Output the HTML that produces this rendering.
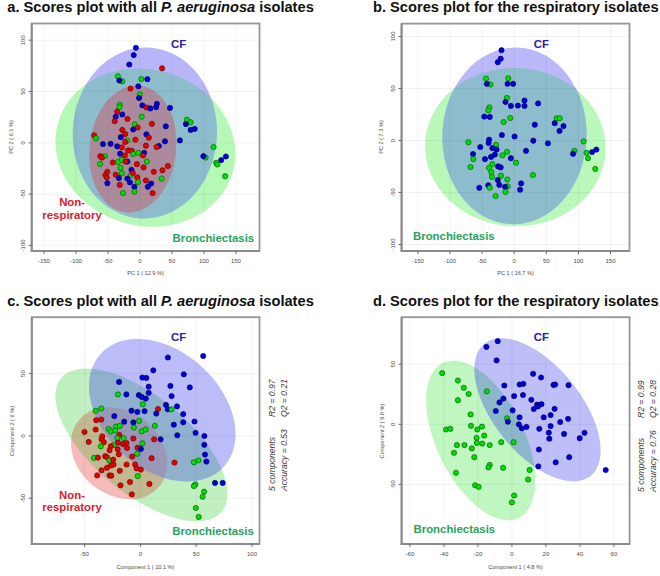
<!DOCTYPE html>
<html><head><meta charset="utf-8"><style>
html,body{margin:0;padding:0;background:#fff;width:660px;height:576px;overflow:hidden}
svg{position:absolute;left:0;top:0;font-family:'Liberation Sans', sans-serif}
</style></head><body>
<svg width="660" height="576" viewBox="0 0 660 576">
<defs><clipPath id="ag"><ellipse cx="145.37" cy="147.63" rx="78.23" ry="90.80" transform="rotate(105.48 145.37 147.63)"/></clipPath>
<clipPath id="ab"><ellipse cx="144.82" cy="132.97" rx="72.05" ry="85.53" transform="rotate(-177.76 144.82 132.97)"/></clipPath>
<clipPath id="ar"><ellipse cx="132.81" cy="149.00" rx="43.20" ry="63.60" transform="rotate(-173.53 132.81 149.00)"/></clipPath>
<clipPath id="bg"><ellipse cx="515.30" cy="147.13" rx="79.18" ry="90.31" transform="rotate(92.67 515.30 147.13)"/></clipPath>
<clipPath id="bb"><ellipse cx="514.47" cy="135.81" rx="72.08" ry="88.35" transform="rotate(-177.75 514.47 135.81)"/></clipPath>
<clipPath id="cg"><ellipse cx="141.43" cy="444.88" rx="104.47" ry="48.47" transform="rotate(-140.27 141.43 444.88)"/></clipPath>
<clipPath id="cb"><ellipse cx="162.27" cy="410.22" rx="58.83" ry="83.57" transform="rotate(132.62 162.27 410.22)"/></clipPath>
<clipPath id="cr"><ellipse cx="119.17" cy="453.25" rx="41.52" ry="52.08" transform="rotate(129.11 119.17 453.25)"/></clipPath>
<clipPath id="dg"><ellipse cx="480.78" cy="440.43" rx="86.26" ry="43.72" transform="rotate(-116.12 480.78 440.43)"/></clipPath>
<clipPath id="db"><ellipse cx="537.50" cy="409.85" rx="84.81" ry="43.85" transform="rotate(-128.74 537.50 409.85)"/></clipPath></defs>
<rect x="31.7" y="23.5" width="227.8" height="227.5" fill="#fff"/>
<ellipse cx="145.37" cy="147.63" rx="78.23" ry="90.80" transform="rotate(105.48 145.37 147.63)" fill="rgb(182,248,182)"/>
<ellipse cx="144.82" cy="132.97" rx="72.05" ry="85.53" transform="rotate(-177.76 144.82 132.97)" fill="rgb(184,182,248)"/>
<ellipse cx="132.81" cy="149.00" rx="43.20" ry="63.60" transform="rotate(-173.53 132.81 149.00)" fill="rgb(240,180,180)"/>
<g clip-path="url(#ag)"><ellipse cx="144.82" cy="132.97" rx="72.05" ry="85.53" transform="rotate(-177.76 144.82 132.97)" fill="rgb(141,188,204)"/></g>
<g clip-path="url(#ag)"><ellipse cx="132.81" cy="149.00" rx="43.20" ry="63.60" transform="rotate(-173.53 132.81 149.00)" fill="rgb(190,180,140)"/></g>
<g clip-path="url(#ab)"><ellipse cx="132.81" cy="149.00" rx="43.20" ry="63.60" transform="rotate(-173.53 132.81 149.00)" fill="rgb(170,140,180)"/></g>
<g clip-path="url(#ab)"><g clip-path="url(#ag)"><ellipse cx="132.81" cy="149.00" rx="43.20" ry="63.60" transform="rotate(-173.53 132.81 149.00)" fill="rgb(171,139,155)"/></g></g>
<line x1="43.900000000000006" y1="23.5" x2="43.900000000000006" y2="251" stroke="#000" stroke-opacity="0.05" stroke-width="1"/>
<line x1="75.9" y1="23.5" x2="75.9" y2="251" stroke="#000" stroke-opacity="0.05" stroke-width="1"/>
<line x1="107.9" y1="23.5" x2="107.9" y2="251" stroke="#000" stroke-opacity="0.05" stroke-width="1"/>
<line x1="139.9" y1="23.5" x2="139.9" y2="251" stroke="#000" stroke-opacity="0.05" stroke-width="1"/>
<line x1="171.9" y1="23.5" x2="171.9" y2="251" stroke="#000" stroke-opacity="0.05" stroke-width="1"/>
<line x1="203.9" y1="23.5" x2="203.9" y2="251" stroke="#000" stroke-opacity="0.05" stroke-width="1"/>
<line x1="235.9" y1="23.5" x2="235.9" y2="251" stroke="#000" stroke-opacity="0.05" stroke-width="1"/>
<line x1="31.7" y1="245.4" x2="259.5" y2="245.4" stroke="#000" stroke-opacity="0.05" stroke-width="1"/>
<line x1="31.7" y1="194.10000000000002" x2="259.5" y2="194.10000000000002" stroke="#000" stroke-opacity="0.05" stroke-width="1"/>
<line x1="31.7" y1="142.8" x2="259.5" y2="142.8" stroke="#000" stroke-opacity="0.05" stroke-width="1"/>
<line x1="31.7" y1="91.50000000000001" x2="259.5" y2="91.50000000000001" stroke="#000" stroke-opacity="0.05" stroke-width="1"/>
<line x1="31.7" y1="40.20000000000002" x2="259.5" y2="40.20000000000002" stroke="#000" stroke-opacity="0.05" stroke-width="1"/>
<circle cx="135.9" cy="47.8" r="2.6" fill="#0000d8" stroke="#000070" stroke-width="0.7"/>
<circle cx="133.7" cy="55.1" r="2.6" fill="#0000d8" stroke="#000070" stroke-width="0.7"/>
<circle cx="129.3" cy="64.5" r="2.6" fill="#0000d8" stroke="#000070" stroke-width="0.7"/>
<circle cx="162.1" cy="68.3" r="2.6" fill="#e80000" stroke="#700000" stroke-width="0.7"/>
<circle cx="117.9" cy="76.3" r="2.6" fill="#00e000" stroke="#006000" stroke-width="0.7"/>
<circle cx="122.3" cy="81.4" r="2.6" fill="#00e000" stroke="#006000" stroke-width="0.7"/>
<circle cx="119.4" cy="80.5" r="2.6" fill="#0000d8" stroke="#000070" stroke-width="0.7"/>
<circle cx="141.3" cy="79.0" r="2.6" fill="#00e000" stroke="#006000" stroke-width="0.7"/>
<circle cx="147.4" cy="79.2" r="2.6" fill="#0000d8" stroke="#000070" stroke-width="0.7"/>
<circle cx="138.3" cy="86.3" r="2.6" fill="#0000d8" stroke="#000070" stroke-width="0.7"/>
<circle cx="130.5" cy="88.5" r="2.6" fill="#e80000" stroke="#700000" stroke-width="0.7"/>
<circle cx="139.8" cy="94.4" r="2.6" fill="#00e000" stroke="#006000" stroke-width="0.7"/>
<circle cx="139.1" cy="98.0" r="2.6" fill="#0000d8" stroke="#000070" stroke-width="0.7"/>
<circle cx="119.8" cy="104.7" r="2.6" fill="#00e000" stroke="#006000" stroke-width="0.7"/>
<circle cx="119.4" cy="107.2" r="2.6" fill="#00e000" stroke="#006000" stroke-width="0.7"/>
<circle cx="117.2" cy="111.6" r="2.6" fill="#e80000" stroke="#700000" stroke-width="0.7"/>
<circle cx="115.7" cy="116.7" r="2.6" fill="#0000d8" stroke="#000070" stroke-width="0.7"/>
<circle cx="122.3" cy="114.5" r="2.6" fill="#0000d8" stroke="#000070" stroke-width="0.7"/>
<circle cx="127.5" cy="119.0" r="2.6" fill="#e80000" stroke="#700000" stroke-width="0.7"/>
<circle cx="141.7" cy="116.7" r="2.6" fill="#00e000" stroke="#006000" stroke-width="0.7"/>
<circle cx="142.4" cy="105.4" r="2.6" fill="#0000d8" stroke="#000070" stroke-width="0.7"/>
<circle cx="146.5" cy="107.5" r="2.6" fill="#e80000" stroke="#700000" stroke-width="0.7"/>
<circle cx="150.3" cy="108.4" r="2.6" fill="#0000d8" stroke="#000070" stroke-width="0.7"/>
<circle cx="156.9" cy="103.8" r="2.6" fill="#0000d8" stroke="#000070" stroke-width="0.7"/>
<circle cx="156.1" cy="107.2" r="2.6" fill="#0000d8" stroke="#000070" stroke-width="0.7"/>
<circle cx="170.0" cy="107.9" r="2.6" fill="#0000d8" stroke="#000070" stroke-width="0.7"/>
<circle cx="186.9" cy="119.7" r="2.6" fill="#00e000" stroke="#006000" stroke-width="0.7"/>
<circle cx="190.6" cy="122.2" r="2.6" fill="#00e000" stroke="#006000" stroke-width="0.7"/>
<circle cx="185.9" cy="124.1" r="2.6" fill="#0000d8" stroke="#000070" stroke-width="0.7"/>
<circle cx="190.6" cy="129.9" r="2.6" fill="#0000d8" stroke="#000070" stroke-width="0.7"/>
<circle cx="194.7" cy="128.9" r="2.6" fill="#0000d8" stroke="#000070" stroke-width="0.7"/>
<circle cx="179.9" cy="140.4" r="2.6" fill="#0000d8" stroke="#000070" stroke-width="0.7"/>
<circle cx="213.6" cy="147.0" r="2.6" fill="#00e000" stroke="#006000" stroke-width="0.7"/>
<circle cx="205.6" cy="157.6" r="2.6" fill="#00e000" stroke="#006000" stroke-width="0.7"/>
<circle cx="203.4" cy="156.2" r="2.6" fill="#0000d8" stroke="#000070" stroke-width="0.7"/>
<circle cx="221.2" cy="160.1" r="2.6" fill="#0000d8" stroke="#000070" stroke-width="0.7"/>
<circle cx="225.9" cy="156.5" r="2.6" fill="#0000d8" stroke="#000070" stroke-width="0.7"/>
<circle cx="216.1" cy="162.8" r="2.6" fill="#00e000" stroke="#006000" stroke-width="0.7"/>
<circle cx="217.3" cy="164.5" r="2.6" fill="#00e000" stroke="#006000" stroke-width="0.7"/>
<circle cx="225.1" cy="176.2" r="2.6" fill="#00e000" stroke="#006000" stroke-width="0.7"/>
<circle cx="114.7" cy="121.2" r="2.6" fill="#e80000" stroke="#700000" stroke-width="0.7"/>
<circle cx="151.9" cy="123.8" r="2.6" fill="#e80000" stroke="#700000" stroke-width="0.7"/>
<circle cx="165.8" cy="126.3" r="2.6" fill="#0000d8" stroke="#000070" stroke-width="0.7"/>
<circle cx="134.7" cy="124.4" r="2.6" fill="#00e000" stroke="#006000" stroke-width="0.7"/>
<circle cx="137.6" cy="127.5" r="2.6" fill="#e80000" stroke="#700000" stroke-width="0.7"/>
<circle cx="133.2" cy="129.5" r="2.6" fill="#0000d8" stroke="#000070" stroke-width="0.7"/>
<circle cx="122.3" cy="129.9" r="2.6" fill="#e80000" stroke="#700000" stroke-width="0.7"/>
<circle cx="125.2" cy="134.0" r="2.6" fill="#e80000" stroke="#700000" stroke-width="0.7"/>
<circle cx="120.8" cy="137.2" r="2.6" fill="#0000d8" stroke="#000070" stroke-width="0.7"/>
<circle cx="94.1" cy="135.3" r="2.6" fill="#e80000" stroke="#700000" stroke-width="0.7"/>
<circle cx="96.0" cy="138.3" r="2.6" fill="#00e000" stroke="#006000" stroke-width="0.7"/>
<circle cx="146.4" cy="134.3" r="2.6" fill="#0000d8" stroke="#000070" stroke-width="0.7"/>
<circle cx="148.8" cy="137.7" r="2.6" fill="#e80000" stroke="#700000" stroke-width="0.7"/>
<circle cx="135.4" cy="139.7" r="2.6" fill="#e80000" stroke="#700000" stroke-width="0.7"/>
<circle cx="165.0" cy="141.3" r="2.6" fill="#0000d8" stroke="#000070" stroke-width="0.7"/>
<circle cx="103.0" cy="144.1" r="2.6" fill="#0000d8" stroke="#000070" stroke-width="0.7"/>
<circle cx="110.6" cy="143.8" r="2.6" fill="#0000d8" stroke="#000070" stroke-width="0.7"/>
<circle cx="117.2" cy="146.3" r="2.6" fill="#0000d8" stroke="#000070" stroke-width="0.7"/>
<circle cx="121.9" cy="147.4" r="2.6" fill="#e80000" stroke="#700000" stroke-width="0.7"/>
<circle cx="127.2" cy="140.6" r="2.6" fill="#00e000" stroke="#006000" stroke-width="0.7"/>
<circle cx="125.2" cy="142.0" r="2.6" fill="#e80000" stroke="#700000" stroke-width="0.7"/>
<circle cx="145.9" cy="145.7" r="2.6" fill="#e80000" stroke="#700000" stroke-width="0.7"/>
<circle cx="158.8" cy="146.0" r="2.6" fill="#0000d8" stroke="#000070" stroke-width="0.7"/>
<circle cx="156.6" cy="147.0" r="2.6" fill="#e80000" stroke="#700000" stroke-width="0.7"/>
<circle cx="128.1" cy="150.4" r="2.6" fill="#e80000" stroke="#700000" stroke-width="0.7"/>
<circle cx="131.8" cy="150.8" r="2.6" fill="#e80000" stroke="#700000" stroke-width="0.7"/>
<circle cx="133.2" cy="154.0" r="2.6" fill="#00e000" stroke="#006000" stroke-width="0.7"/>
<circle cx="138.3" cy="152.8" r="2.6" fill="#00e000" stroke="#006000" stroke-width="0.7"/>
<circle cx="144.2" cy="152.8" r="2.6" fill="#0000d8" stroke="#000070" stroke-width="0.7"/>
<circle cx="143.0" cy="155.5" r="2.6" fill="#e80000" stroke="#700000" stroke-width="0.7"/>
<circle cx="120.1" cy="153.7" r="2.6" fill="#0000d8" stroke="#000070" stroke-width="0.7"/>
<circle cx="124.9" cy="155.5" r="2.6" fill="#e80000" stroke="#700000" stroke-width="0.7"/>
<circle cx="104.8" cy="156.2" r="2.6" fill="#00e000" stroke="#006000" stroke-width="0.7"/>
<circle cx="100.4" cy="156.2" r="2.6" fill="#e80000" stroke="#700000" stroke-width="0.7"/>
<circle cx="101.9" cy="157.6" r="2.6" fill="#e80000" stroke="#700000" stroke-width="0.7"/>
<circle cx="100.1" cy="163.9" r="2.6" fill="#00e000" stroke="#006000" stroke-width="0.7"/>
<circle cx="112.8" cy="162.5" r="2.6" fill="#e80000" stroke="#700000" stroke-width="0.7"/>
<circle cx="117.9" cy="162.0" r="2.6" fill="#00e000" stroke="#006000" stroke-width="0.7"/>
<circle cx="121.6" cy="159.8" r="2.6" fill="#00e000" stroke="#006000" stroke-width="0.7"/>
<circle cx="127.4" cy="161.6" r="2.6" fill="#0000d8" stroke="#000070" stroke-width="0.7"/>
<circle cx="125.5" cy="161.6" r="2.6" fill="#e80000" stroke="#700000" stroke-width="0.7"/>
<circle cx="146.8" cy="161.6" r="2.6" fill="#00e000" stroke="#006000" stroke-width="0.7"/>
<circle cx="136.9" cy="164.2" r="2.6" fill="#e80000" stroke="#700000" stroke-width="0.7"/>
<circle cx="143.6" cy="167.4" r="2.6" fill="#e80000" stroke="#700000" stroke-width="0.7"/>
<circle cx="167.9" cy="166.0" r="2.6" fill="#e80000" stroke="#700000" stroke-width="0.7"/>
<circle cx="120.5" cy="167.9" r="2.6" fill="#00e000" stroke="#006000" stroke-width="0.7"/>
<circle cx="107.3" cy="171.8" r="2.6" fill="#e80000" stroke="#700000" stroke-width="0.7"/>
<circle cx="105.5" cy="175.1" r="2.6" fill="#e80000" stroke="#700000" stroke-width="0.7"/>
<circle cx="106.7" cy="177.3" r="2.6" fill="#e80000" stroke="#700000" stroke-width="0.7"/>
<circle cx="107.4" cy="183.2" r="2.6" fill="#0000d8" stroke="#000070" stroke-width="0.7"/>
<circle cx="115.7" cy="174.7" r="2.6" fill="#e80000" stroke="#700000" stroke-width="0.7"/>
<circle cx="121.9" cy="173.3" r="2.6" fill="#00e000" stroke="#006000" stroke-width="0.7"/>
<circle cx="118.9" cy="178.1" r="2.6" fill="#0000d8" stroke="#000070" stroke-width="0.7"/>
<circle cx="131.5" cy="169.8" r="2.6" fill="#0000d8" stroke="#000070" stroke-width="0.7"/>
<circle cx="130.8" cy="175.1" r="2.6" fill="#00e000" stroke="#006000" stroke-width="0.7"/>
<circle cx="132.8" cy="173.0" r="2.6" fill="#e80000" stroke="#700000" stroke-width="0.7"/>
<circle cx="153.8" cy="171.8" r="2.6" fill="#e80000" stroke="#700000" stroke-width="0.7"/>
<circle cx="162.5" cy="170.3" r="2.6" fill="#e80000" stroke="#700000" stroke-width="0.7"/>
<circle cx="161.7" cy="178.5" r="2.6" fill="#00e000" stroke="#006000" stroke-width="0.7"/>
<circle cx="127.4" cy="178.5" r="2.6" fill="#0000d8" stroke="#000070" stroke-width="0.7"/>
<circle cx="129.9" cy="182.4" r="2.6" fill="#0000d8" stroke="#000070" stroke-width="0.7"/>
<circle cx="137.3" cy="177.3" r="2.6" fill="#e80000" stroke="#700000" stroke-width="0.7"/>
<circle cx="138.0" cy="182.0" r="2.6" fill="#00e000" stroke="#006000" stroke-width="0.7"/>
<circle cx="145.9" cy="180.5" r="2.6" fill="#e80000" stroke="#700000" stroke-width="0.7"/>
<circle cx="151.2" cy="183.6" r="2.6" fill="#0000d8" stroke="#000070" stroke-width="0.7"/>
<circle cx="147.8" cy="186.8" r="2.6" fill="#0000d8" stroke="#000070" stroke-width="0.7"/>
<circle cx="119.7" cy="184.9" r="2.6" fill="#e80000" stroke="#700000" stroke-width="0.7"/>
<circle cx="134.4" cy="186.8" r="2.6" fill="#0000d8" stroke="#000070" stroke-width="0.7"/>
<circle cx="134.4" cy="191.6" r="2.6" fill="#00e000" stroke="#006000" stroke-width="0.7"/>
<circle cx="123.0" cy="193.1" r="2.6" fill="#00e000" stroke="#006000" stroke-width="0.7"/>
<circle cx="152.6" cy="193.1" r="2.6" fill="#e80000" stroke="#700000" stroke-width="0.7"/>
<rect x="31.7" y="23.5" width="227.8" height="227.5" fill="none" stroke="#969696" stroke-width="1.8"/>
<line x1="31.7" y1="23.5" x2="31.7" y2="251.9" stroke="#8c8c8c" stroke-width="2"/>
<line x1="30.8" y1="251" x2="259.5" y2="251" stroke="#8c8c8c" stroke-width="2"/>
<line x1="43.900000000000006" y1="251" x2="43.900000000000006" y2="254" stroke="#666" stroke-width="1"/>
<text x="43.900000000000006" y="262.6" font-size="6" text-anchor="middle" fill="#4a4a4a">-150</text>
<line x1="75.9" y1="251" x2="75.9" y2="254" stroke="#666" stroke-width="1"/>
<text x="75.9" y="262.6" font-size="6" text-anchor="middle" fill="#4a4a4a">-100</text>
<line x1="107.9" y1="251" x2="107.9" y2="254" stroke="#666" stroke-width="1"/>
<text x="107.9" y="262.6" font-size="6" text-anchor="middle" fill="#4a4a4a">-50</text>
<line x1="139.9" y1="251" x2="139.9" y2="254" stroke="#666" stroke-width="1"/>
<text x="139.9" y="262.6" font-size="6" text-anchor="middle" fill="#4a4a4a">0</text>
<line x1="171.9" y1="251" x2="171.9" y2="254" stroke="#666" stroke-width="1"/>
<text x="171.9" y="262.6" font-size="6" text-anchor="middle" fill="#4a4a4a">50</text>
<line x1="203.9" y1="251" x2="203.9" y2="254" stroke="#666" stroke-width="1"/>
<text x="203.9" y="262.6" font-size="6" text-anchor="middle" fill="#4a4a4a">100</text>
<line x1="235.9" y1="251" x2="235.9" y2="254" stroke="#666" stroke-width="1"/>
<text x="235.9" y="262.6" font-size="6" text-anchor="middle" fill="#4a4a4a">150</text>
<line x1="31.7" y1="245.4" x2="28.7" y2="245.4" stroke="#666" stroke-width="1"/>
<text x="22.7" y="245.4" font-size="6" text-anchor="middle" fill="#4a4a4a" transform="rotate(-90 22.7 245.4)" dominant-baseline="central">-100</text>
<line x1="31.7" y1="194.10000000000002" x2="28.7" y2="194.10000000000002" stroke="#666" stroke-width="1"/>
<text x="22.7" y="194.10000000000002" font-size="6" text-anchor="middle" fill="#4a4a4a" transform="rotate(-90 22.7 194.10000000000002)" dominant-baseline="central">-50</text>
<line x1="31.7" y1="142.8" x2="28.7" y2="142.8" stroke="#666" stroke-width="1"/>
<text x="22.7" y="142.8" font-size="6" text-anchor="middle" fill="#4a4a4a" transform="rotate(-90 22.7 142.8)" dominant-baseline="central">0</text>
<line x1="31.7" y1="91.50000000000001" x2="28.7" y2="91.50000000000001" stroke="#666" stroke-width="1"/>
<text x="22.7" y="91.50000000000001" font-size="6" text-anchor="middle" fill="#4a4a4a" transform="rotate(-90 22.7 91.50000000000001)" dominant-baseline="central">50</text>
<line x1="31.7" y1="40.20000000000002" x2="28.7" y2="40.20000000000002" stroke="#666" stroke-width="1"/>
<text x="22.7" y="40.20000000000002" font-size="6" text-anchor="middle" fill="#4a4a4a" transform="rotate(-90 22.7 40.20000000000002)" dominant-baseline="central">100</text>
<text x="145.5" y="275" font-size="5.6" text-anchor="middle" fill="#4a4a4a">PC 1 ( 12.9 %)</text>
<text x="10.7" y="137" font-size="5.6" text-anchor="middle" fill="#4a4a4a" dominant-baseline="central" transform="rotate(-90 10.7 137)">PC 2 ( 6.1 %)</text>
<rect x="401.6" y="23.6" width="227.89999999999998" height="227.4" fill="#fff"/>
<ellipse cx="515.30" cy="147.13" rx="79.18" ry="90.31" transform="rotate(92.67 515.30 147.13)" fill="rgb(186,248,186)"/>
<ellipse cx="514.47" cy="135.81" rx="72.08" ry="88.35" transform="rotate(-177.75 514.47 135.81)" fill="rgb(186,184,248)"/>
<g clip-path="url(#bg)"><ellipse cx="514.47" cy="135.81" rx="72.08" ry="88.35" transform="rotate(-177.75 514.47 135.81)" fill="rgb(141,188,204)"/></g>
<line x1="417.90000000000003" y1="23.6" x2="417.90000000000003" y2="251" stroke="#000" stroke-opacity="0.05" stroke-width="1"/>
<line x1="450.00000000000006" y1="23.6" x2="450.00000000000006" y2="251" stroke="#000" stroke-opacity="0.05" stroke-width="1"/>
<line x1="482.1" y1="23.6" x2="482.1" y2="251" stroke="#000" stroke-opacity="0.05" stroke-width="1"/>
<line x1="514.2" y1="23.6" x2="514.2" y2="251" stroke="#000" stroke-opacity="0.05" stroke-width="1"/>
<line x1="546.3000000000001" y1="23.6" x2="546.3000000000001" y2="251" stroke="#000" stroke-opacity="0.05" stroke-width="1"/>
<line x1="578.4000000000001" y1="23.6" x2="578.4000000000001" y2="251" stroke="#000" stroke-opacity="0.05" stroke-width="1"/>
<line x1="610.5" y1="23.6" x2="610.5" y2="251" stroke="#000" stroke-opacity="0.05" stroke-width="1"/>
<line x1="401.6" y1="244.5" x2="629.5" y2="244.5" stroke="#000" stroke-opacity="0.05" stroke-width="1"/>
<line x1="401.6" y1="192.5" x2="629.5" y2="192.5" stroke="#000" stroke-opacity="0.05" stroke-width="1"/>
<line x1="401.6" y1="140.5" x2="629.5" y2="140.5" stroke="#000" stroke-opacity="0.05" stroke-width="1"/>
<line x1="401.6" y1="88.5" x2="629.5" y2="88.5" stroke="#000" stroke-opacity="0.05" stroke-width="1"/>
<line x1="401.6" y1="36.5" x2="629.5" y2="36.5" stroke="#000" stroke-opacity="0.05" stroke-width="1"/>
<circle cx="501.5" cy="50.2" r="2.6" fill="#0000d8" stroke="#000070" stroke-width="0.7"/>
<circle cx="500.7" cy="58.7" r="2.6" fill="#0000d8" stroke="#000070" stroke-width="0.7"/>
<circle cx="497.8" cy="62.2" r="2.6" fill="#0000d8" stroke="#000070" stroke-width="0.7"/>
<circle cx="486.1" cy="78.6" r="2.6" fill="#00e000" stroke="#006000" stroke-width="0.7"/>
<circle cx="490.5" cy="84.5" r="2.6" fill="#00e000" stroke="#006000" stroke-width="0.7"/>
<circle cx="486.9" cy="83.8" r="2.6" fill="#0000d8" stroke="#000070" stroke-width="0.7"/>
<circle cx="508.3" cy="78.2" r="2.6" fill="#00e000" stroke="#006000" stroke-width="0.7"/>
<circle cx="507.6" cy="83.8" r="2.6" fill="#0000d8" stroke="#000070" stroke-width="0.7"/>
<circle cx="513.1" cy="83.8" r="2.6" fill="#0000d8" stroke="#000070" stroke-width="0.7"/>
<circle cx="506.9" cy="97.9" r="2.6" fill="#00e000" stroke="#006000" stroke-width="0.7"/>
<circle cx="505.5" cy="102.0" r="2.6" fill="#0000d8" stroke="#000070" stroke-width="0.7"/>
<circle cx="510.9" cy="105.9" r="2.6" fill="#0000d8" stroke="#000070" stroke-width="0.7"/>
<circle cx="517.9" cy="105.6" r="2.6" fill="#0000d8" stroke="#000070" stroke-width="0.7"/>
<circle cx="524.5" cy="100.5" r="2.6" fill="#0000d8" stroke="#000070" stroke-width="0.7"/>
<circle cx="524.5" cy="105.9" r="2.6" fill="#0000d8" stroke="#000070" stroke-width="0.7"/>
<circle cx="489.4" cy="107.4" r="2.6" fill="#00e000" stroke="#006000" stroke-width="0.7"/>
<circle cx="488.3" cy="110.3" r="2.6" fill="#00e000" stroke="#006000" stroke-width="0.7"/>
<circle cx="484.3" cy="116.6" r="2.6" fill="#0000d8" stroke="#000070" stroke-width="0.7"/>
<circle cx="489.8" cy="116.9" r="2.6" fill="#0000d8" stroke="#000070" stroke-width="0.7"/>
<circle cx="510.2" cy="118.0" r="2.6" fill="#00e000" stroke="#006000" stroke-width="0.7"/>
<circle cx="503.6" cy="122.0" r="2.6" fill="#00e000" stroke="#006000" stroke-width="0.7"/>
<circle cx="538.1" cy="103.4" r="2.6" fill="#0000d8" stroke="#000070" stroke-width="0.7"/>
<circle cx="556.6" cy="118.3" r="2.6" fill="#00e000" stroke="#006000" stroke-width="0.7"/>
<circle cx="559.8" cy="118.3" r="2.6" fill="#00e000" stroke="#006000" stroke-width="0.7"/>
<circle cx="501.9" cy="135.0" r="2.6" fill="#0000d8" stroke="#000070" stroke-width="0.7"/>
<circle cx="514.6" cy="136.5" r="2.6" fill="#0000d8" stroke="#000070" stroke-width="0.7"/>
<circle cx="468.4" cy="142.2" r="2.6" fill="#00e000" stroke="#006000" stroke-width="0.7"/>
<circle cx="489.1" cy="139.7" r="2.6" fill="#0000d8" stroke="#000070" stroke-width="0.7"/>
<circle cx="488.6" cy="143.0" r="2.6" fill="#0000d8" stroke="#000070" stroke-width="0.7"/>
<circle cx="480.3" cy="147.0" r="2.6" fill="#0000d8" stroke="#000070" stroke-width="0.7"/>
<circle cx="496.1" cy="144.8" r="2.6" fill="#00e000" stroke="#006000" stroke-width="0.7"/>
<circle cx="492.4" cy="148.1" r="2.6" fill="#0000d8" stroke="#000070" stroke-width="0.7"/>
<circle cx="496.6" cy="149.5" r="2.6" fill="#0000d8" stroke="#000070" stroke-width="0.7"/>
<circle cx="473.0" cy="154.0" r="2.6" fill="#0000d8" stroke="#000070" stroke-width="0.7"/>
<circle cx="473.3" cy="159.1" r="2.6" fill="#00e000" stroke="#006000" stroke-width="0.7"/>
<circle cx="485.0" cy="159.1" r="2.6" fill="#0000d8" stroke="#000070" stroke-width="0.7"/>
<circle cx="494.9" cy="154.6" r="2.6" fill="#0000d8" stroke="#000070" stroke-width="0.7"/>
<circle cx="491.0" cy="156.9" r="2.6" fill="#0000d8" stroke="#000070" stroke-width="0.7"/>
<circle cx="507.0" cy="151.8" r="2.6" fill="#00e000" stroke="#006000" stroke-width="0.7"/>
<circle cx="502.5" cy="155.3" r="2.6" fill="#00e000" stroke="#006000" stroke-width="0.7"/>
<circle cx="510.9" cy="158.2" r="2.6" fill="#0000d8" stroke="#000070" stroke-width="0.7"/>
<circle cx="516.0" cy="162.7" r="2.6" fill="#00e000" stroke="#006000" stroke-width="0.7"/>
<circle cx="526.0" cy="150.8" r="2.6" fill="#0000d8" stroke="#000070" stroke-width="0.7"/>
<circle cx="470.5" cy="167.0" r="2.6" fill="#00e000" stroke="#006000" stroke-width="0.7"/>
<circle cx="492.3" cy="164.2" r="2.6" fill="#00e000" stroke="#006000" stroke-width="0.7"/>
<circle cx="489.1" cy="167.8" r="2.6" fill="#00e000" stroke="#006000" stroke-width="0.7"/>
<circle cx="498.1" cy="166.4" r="2.6" fill="#0000d8" stroke="#000070" stroke-width="0.7"/>
<circle cx="500.7" cy="167.4" r="2.6" fill="#0000d8" stroke="#000070" stroke-width="0.7"/>
<circle cx="491.3" cy="172.1" r="2.6" fill="#00e000" stroke="#006000" stroke-width="0.7"/>
<circle cx="492.0" cy="176.9" r="2.6" fill="#00e000" stroke="#006000" stroke-width="0.7"/>
<circle cx="501.0" cy="175.7" r="2.6" fill="#00e000" stroke="#006000" stroke-width="0.7"/>
<circle cx="497.8" cy="180.1" r="2.6" fill="#0000d8" stroke="#000070" stroke-width="0.7"/>
<circle cx="507.3" cy="179.5" r="2.6" fill="#00e000" stroke="#006000" stroke-width="0.7"/>
<circle cx="499.3" cy="184.9" r="2.6" fill="#0000d8" stroke="#000070" stroke-width="0.7"/>
<circle cx="507.7" cy="186.4" r="2.6" fill="#00e000" stroke="#006000" stroke-width="0.7"/>
<circle cx="505.1" cy="186.8" r="2.6" fill="#0000d8" stroke="#000070" stroke-width="0.7"/>
<circle cx="505.5" cy="191.9" r="2.6" fill="#00e000" stroke="#006000" stroke-width="0.7"/>
<circle cx="488.3" cy="185.3" r="2.6" fill="#0000d8" stroke="#000070" stroke-width="0.7"/>
<circle cx="489.8" cy="187.8" r="2.6" fill="#00e000" stroke="#006000" stroke-width="0.7"/>
<circle cx="479.3" cy="187.8" r="2.6" fill="#0000d8" stroke="#000070" stroke-width="0.7"/>
<circle cx="521.1" cy="183.4" r="2.6" fill="#0000d8" stroke="#000070" stroke-width="0.7"/>
<circle cx="520.1" cy="189.7" r="2.6" fill="#0000d8" stroke="#000070" stroke-width="0.7"/>
<circle cx="495.6" cy="196.1" r="2.6" fill="#00e000" stroke="#006000" stroke-width="0.7"/>
<circle cx="534.8" cy="124.7" r="2.6" fill="#0000d8" stroke="#000070" stroke-width="0.7"/>
<circle cx="554.7" cy="123.2" r="2.6" fill="#0000d8" stroke="#000070" stroke-width="0.7"/>
<circle cx="563.5" cy="126.1" r="2.6" fill="#0000d8" stroke="#000070" stroke-width="0.7"/>
<circle cx="559.5" cy="130.9" r="2.6" fill="#0000d8" stroke="#000070" stroke-width="0.7"/>
<circle cx="533.3" cy="140.7" r="2.6" fill="#0000d8" stroke="#000070" stroke-width="0.7"/>
<circle cx="547.9" cy="143.3" r="2.6" fill="#0000d8" stroke="#000070" stroke-width="0.7"/>
<circle cx="583.6" cy="141.4" r="2.6" fill="#00e000" stroke="#006000" stroke-width="0.7"/>
<circle cx="574.4" cy="150.9" r="2.6" fill="#00e000" stroke="#006000" stroke-width="0.7"/>
<circle cx="573.1" cy="153.8" r="2.6" fill="#0000d8" stroke="#000070" stroke-width="0.7"/>
<circle cx="586.5" cy="152.8" r="2.6" fill="#00e000" stroke="#006000" stroke-width="0.7"/>
<circle cx="588.0" cy="158.2" r="2.6" fill="#00e000" stroke="#006000" stroke-width="0.7"/>
<circle cx="592.1" cy="152.1" r="2.6" fill="#0000d8" stroke="#000070" stroke-width="0.7"/>
<circle cx="596.4" cy="149.6" r="2.6" fill="#0000d8" stroke="#000070" stroke-width="0.7"/>
<circle cx="595.3" cy="168.9" r="2.6" fill="#00e000" stroke="#006000" stroke-width="0.7"/>
<circle cx="532.9" cy="175.0" r="2.6" fill="#00e000" stroke="#006000" stroke-width="0.7"/>
<rect x="401.6" y="23.6" width="227.89999999999998" height="227.4" fill="none" stroke="#969696" stroke-width="1.8"/>
<line x1="401.6" y1="23.6" x2="401.6" y2="251.9" stroke="#8c8c8c" stroke-width="2"/>
<line x1="400.70000000000005" y1="251" x2="629.5" y2="251" stroke="#8c8c8c" stroke-width="2"/>
<line x1="417.90000000000003" y1="251" x2="417.90000000000003" y2="254" stroke="#666" stroke-width="1"/>
<text x="417.90000000000003" y="262.6" font-size="6" text-anchor="middle" fill="#4a4a4a">-150</text>
<line x1="450.00000000000006" y1="251" x2="450.00000000000006" y2="254" stroke="#666" stroke-width="1"/>
<text x="450.00000000000006" y="262.6" font-size="6" text-anchor="middle" fill="#4a4a4a">-100</text>
<line x1="482.1" y1="251" x2="482.1" y2="254" stroke="#666" stroke-width="1"/>
<text x="482.1" y="262.6" font-size="6" text-anchor="middle" fill="#4a4a4a">-50</text>
<line x1="514.2" y1="251" x2="514.2" y2="254" stroke="#666" stroke-width="1"/>
<text x="514.2" y="262.6" font-size="6" text-anchor="middle" fill="#4a4a4a">0</text>
<line x1="546.3000000000001" y1="251" x2="546.3000000000001" y2="254" stroke="#666" stroke-width="1"/>
<text x="546.3000000000001" y="262.6" font-size="6" text-anchor="middle" fill="#4a4a4a">50</text>
<line x1="578.4000000000001" y1="251" x2="578.4000000000001" y2="254" stroke="#666" stroke-width="1"/>
<text x="578.4000000000001" y="262.6" font-size="6" text-anchor="middle" fill="#4a4a4a">100</text>
<line x1="610.5" y1="251" x2="610.5" y2="254" stroke="#666" stroke-width="1"/>
<text x="610.5" y="262.6" font-size="6" text-anchor="middle" fill="#4a4a4a">150</text>
<line x1="401.6" y1="244.5" x2="398.6" y2="244.5" stroke="#666" stroke-width="1"/>
<text x="392.6" y="244.5" font-size="6" text-anchor="middle" fill="#4a4a4a" transform="rotate(-90 392.6 244.5)" dominant-baseline="central">-100</text>
<line x1="401.6" y1="192.5" x2="398.6" y2="192.5" stroke="#666" stroke-width="1"/>
<text x="392.6" y="192.5" font-size="6" text-anchor="middle" fill="#4a4a4a" transform="rotate(-90 392.6 192.5)" dominant-baseline="central">-50</text>
<line x1="401.6" y1="140.5" x2="398.6" y2="140.5" stroke="#666" stroke-width="1"/>
<text x="392.6" y="140.5" font-size="6" text-anchor="middle" fill="#4a4a4a" transform="rotate(-90 392.6 140.5)" dominant-baseline="central">0</text>
<line x1="401.6" y1="88.5" x2="398.6" y2="88.5" stroke="#666" stroke-width="1"/>
<text x="392.6" y="88.5" font-size="6" text-anchor="middle" fill="#4a4a4a" transform="rotate(-90 392.6 88.5)" dominant-baseline="central">50</text>
<line x1="401.6" y1="36.5" x2="398.6" y2="36.5" stroke="#666" stroke-width="1"/>
<text x="392.6" y="36.5" font-size="6" text-anchor="middle" fill="#4a4a4a" transform="rotate(-90 392.6 36.5)" dominant-baseline="central">100</text>
<text x="515.5" y="275" font-size="5.6" text-anchor="middle" fill="#4a4a4a">PC 1 ( 16.7 %)</text>
<text x="380.7" y="137" font-size="5.6" text-anchor="middle" fill="#4a4a4a" dominant-baseline="central" transform="rotate(-90 380.7 137)">PC 2 ( 7.3 %)</text>
<rect x="31.8" y="317.2" width="227.7" height="226.7" fill="#fff"/>
<ellipse cx="141.43" cy="444.88" rx="104.47" ry="48.47" transform="rotate(-140.27 141.43 444.88)" fill="rgb(192,240,192)"/>
<ellipse cx="162.27" cy="410.22" rx="58.83" ry="83.57" transform="rotate(132.62 162.27 410.22)" fill="rgb(188,188,248)"/>
<ellipse cx="119.17" cy="453.25" rx="41.52" ry="52.08" transform="rotate(129.11 119.17 453.25)" fill="rgb(246,186,186)"/>
<g clip-path="url(#cg)"><ellipse cx="162.27" cy="410.22" rx="58.83" ry="83.57" transform="rotate(132.62 162.27 410.22)" fill="rgb(143,177,206)"/></g>
<g clip-path="url(#cg)"><ellipse cx="119.17" cy="453.25" rx="41.52" ry="52.08" transform="rotate(129.11 119.17 453.25)" fill="rgb(192,184,144)"/></g>
<g clip-path="url(#cb)"><ellipse cx="119.17" cy="453.25" rx="41.52" ry="52.08" transform="rotate(129.11 119.17 453.25)" fill="rgb(180,150,200)"/></g>
<g clip-path="url(#cb)"><g clip-path="url(#cg)"><ellipse cx="119.17" cy="453.25" rx="41.52" ry="52.08" transform="rotate(129.11 119.17 453.25)" fill="rgb(152,152,184)"/></g></g>
<line x1="84.60000000000001" y1="317.2" x2="84.60000000000001" y2="543.9" stroke="#000" stroke-opacity="0.05" stroke-width="1"/>
<line x1="140.4" y1="317.2" x2="140.4" y2="543.9" stroke="#000" stroke-opacity="0.05" stroke-width="1"/>
<line x1="196.2" y1="317.2" x2="196.2" y2="543.9" stroke="#000" stroke-opacity="0.05" stroke-width="1"/>
<line x1="252.0" y1="317.2" x2="252.0" y2="543.9" stroke="#000" stroke-opacity="0.05" stroke-width="1"/>
<line x1="31.8" y1="498.2" x2="259.5" y2="498.2" stroke="#000" stroke-opacity="0.05" stroke-width="1"/>
<line x1="31.8" y1="435.9" x2="259.5" y2="435.9" stroke="#000" stroke-opacity="0.05" stroke-width="1"/>
<line x1="31.8" y1="373.59999999999997" x2="259.5" y2="373.59999999999997" stroke="#000" stroke-opacity="0.05" stroke-width="1"/>
<circle cx="153.3" cy="370.3" r="2.6" fill="#0000d8" stroke="#000070" stroke-width="0.7"/>
<circle cx="142.4" cy="377.6" r="2.6" fill="#0000d8" stroke="#000070" stroke-width="0.7"/>
<circle cx="146.3" cy="377.9" r="2.6" fill="#0000d8" stroke="#000070" stroke-width="0.7"/>
<circle cx="119.1" cy="381.9" r="2.6" fill="#0000d8" stroke="#000070" stroke-width="0.7"/>
<circle cx="148.7" cy="386.7" r="2.6" fill="#0000d8" stroke="#000070" stroke-width="0.7"/>
<circle cx="148.7" cy="392.8" r="2.6" fill="#0000d8" stroke="#000070" stroke-width="0.7"/>
<circle cx="117.9" cy="394.4" r="2.6" fill="#00e000" stroke="#006000" stroke-width="0.7"/>
<circle cx="126.4" cy="394.4" r="2.6" fill="#0000d8" stroke="#000070" stroke-width="0.7"/>
<circle cx="138.8" cy="395.1" r="2.6" fill="#0000d8" stroke="#000070" stroke-width="0.7"/>
<circle cx="141.7" cy="396.9" r="2.6" fill="#0000d8" stroke="#000070" stroke-width="0.7"/>
<circle cx="145.8" cy="398.6" r="2.6" fill="#0000d8" stroke="#000070" stroke-width="0.7"/>
<circle cx="142.8" cy="404.2" r="2.6" fill="#00e000" stroke="#006000" stroke-width="0.7"/>
<circle cx="131.5" cy="410.7" r="2.6" fill="#0000d8" stroke="#000070" stroke-width="0.7"/>
<circle cx="137.3" cy="411.9" r="2.6" fill="#0000d8" stroke="#000070" stroke-width="0.7"/>
<circle cx="144.6" cy="411.2" r="2.6" fill="#0000d8" stroke="#000070" stroke-width="0.7"/>
<circle cx="101.3" cy="408.5" r="2.6" fill="#00e000" stroke="#006000" stroke-width="0.7"/>
<circle cx="95.7" cy="410.7" r="2.6" fill="#00e000" stroke="#006000" stroke-width="0.7"/>
<circle cx="114.3" cy="416.1" r="2.6" fill="#0000d8" stroke="#000070" stroke-width="0.7"/>
<circle cx="96.2" cy="420.2" r="2.6" fill="#e80000" stroke="#700000" stroke-width="0.7"/>
<circle cx="101.3" cy="419.5" r="2.6" fill="#e80000" stroke="#700000" stroke-width="0.7"/>
<circle cx="124.2" cy="421.7" r="2.6" fill="#0000d8" stroke="#000070" stroke-width="0.7"/>
<circle cx="133.4" cy="422.4" r="2.6" fill="#0000d8" stroke="#000070" stroke-width="0.7"/>
<circle cx="139.0" cy="420.9" r="2.6" fill="#00e000" stroke="#006000" stroke-width="0.7"/>
<circle cx="203.2" cy="356.0" r="2.6" fill="#0000d8" stroke="#000070" stroke-width="0.7"/>
<circle cx="167.9" cy="357.5" r="2.6" fill="#0000d8" stroke="#000070" stroke-width="0.7"/>
<circle cx="183.8" cy="374.3" r="2.6" fill="#0000d8" stroke="#000070" stroke-width="0.7"/>
<circle cx="170.4" cy="385.9" r="2.6" fill="#0000d8" stroke="#000070" stroke-width="0.7"/>
<circle cx="189.8" cy="387.4" r="2.6" fill="#0000d8" stroke="#000070" stroke-width="0.7"/>
<circle cx="171.6" cy="396.1" r="2.6" fill="#0000d8" stroke="#000070" stroke-width="0.7"/>
<circle cx="166.0" cy="404.9" r="2.6" fill="#0000d8" stroke="#000070" stroke-width="0.7"/>
<circle cx="167.8" cy="409.3" r="2.6" fill="#0000d8" stroke="#000070" stroke-width="0.7"/>
<circle cx="171.6" cy="409.3" r="2.6" fill="#00e000" stroke="#006000" stroke-width="0.7"/>
<circle cx="177.0" cy="406.4" r="2.6" fill="#0000d8" stroke="#000070" stroke-width="0.7"/>
<circle cx="158.0" cy="409.0" r="2.6" fill="#e80000" stroke="#700000" stroke-width="0.7"/>
<circle cx="156.3" cy="413.6" r="2.6" fill="#0000d8" stroke="#000070" stroke-width="0.7"/>
<circle cx="183.2" cy="414.1" r="2.6" fill="#0000d8" stroke="#000070" stroke-width="0.7"/>
<circle cx="183.2" cy="422.3" r="2.6" fill="#0000d8" stroke="#000070" stroke-width="0.7"/>
<circle cx="194.5" cy="421.5" r="2.6" fill="#0000d8" stroke="#000070" stroke-width="0.7"/>
<circle cx="154.8" cy="425.8" r="2.6" fill="#00e000" stroke="#006000" stroke-width="0.7"/>
<circle cx="84.5" cy="432.0" r="2.6" fill="#e80000" stroke="#700000" stroke-width="0.7"/>
<circle cx="95.7" cy="429.5" r="2.6" fill="#e80000" stroke="#700000" stroke-width="0.7"/>
<circle cx="108.6" cy="429.0" r="2.6" fill="#00e000" stroke="#006000" stroke-width="0.7"/>
<circle cx="110.8" cy="431.4" r="2.6" fill="#00e000" stroke="#006000" stroke-width="0.7"/>
<circle cx="116.1" cy="426.6" r="2.6" fill="#00e000" stroke="#006000" stroke-width="0.7"/>
<circle cx="119.8" cy="425.8" r="2.6" fill="#00e000" stroke="#006000" stroke-width="0.7"/>
<circle cx="115.1" cy="430.5" r="2.6" fill="#00e000" stroke="#006000" stroke-width="0.7"/>
<circle cx="133.9" cy="427.6" r="2.6" fill="#00e000" stroke="#006000" stroke-width="0.7"/>
<circle cx="141.7" cy="431.4" r="2.6" fill="#00e000" stroke="#006000" stroke-width="0.7"/>
<circle cx="145.6" cy="429.5" r="2.6" fill="#00e000" stroke="#006000" stroke-width="0.7"/>
<circle cx="119.4" cy="434.9" r="2.6" fill="#e80000" stroke="#700000" stroke-width="0.7"/>
<circle cx="102.3" cy="436.3" r="2.6" fill="#e80000" stroke="#700000" stroke-width="0.7"/>
<circle cx="101.6" cy="439.3" r="2.6" fill="#e80000" stroke="#700000" stroke-width="0.7"/>
<circle cx="103.8" cy="442.2" r="2.6" fill="#e80000" stroke="#700000" stroke-width="0.7"/>
<circle cx="117.3" cy="438.2" r="2.6" fill="#00e000" stroke="#006000" stroke-width="0.7"/>
<circle cx="123.7" cy="438.2" r="2.6" fill="#00e000" stroke="#006000" stroke-width="0.7"/>
<circle cx="133.4" cy="438.5" r="2.6" fill="#e80000" stroke="#700000" stroke-width="0.7"/>
<circle cx="154.1" cy="439.3" r="2.6" fill="#e80000" stroke="#700000" stroke-width="0.7"/>
<circle cx="88.7" cy="441.9" r="2.6" fill="#e80000" stroke="#700000" stroke-width="0.7"/>
<circle cx="117.9" cy="442.6" r="2.6" fill="#e80000" stroke="#700000" stroke-width="0.7"/>
<circle cx="123.0" cy="444.1" r="2.6" fill="#e80000" stroke="#700000" stroke-width="0.7"/>
<circle cx="126.4" cy="443.0" r="2.6" fill="#e80000" stroke="#700000" stroke-width="0.7"/>
<circle cx="127.1" cy="448.0" r="2.6" fill="#e80000" stroke="#700000" stroke-width="0.7"/>
<circle cx="142.4" cy="443.3" r="2.6" fill="#00e000" stroke="#006000" stroke-width="0.7"/>
<circle cx="100.8" cy="446.3" r="2.6" fill="#00e000" stroke="#006000" stroke-width="0.7"/>
<circle cx="113.7" cy="445.1" r="2.6" fill="#00e000" stroke="#006000" stroke-width="0.7"/>
<circle cx="110.8" cy="446.3" r="2.6" fill="#e80000" stroke="#700000" stroke-width="0.7"/>
<circle cx="109.6" cy="450.3" r="2.6" fill="#e80000" stroke="#700000" stroke-width="0.7"/>
<circle cx="117.6" cy="449.2" r="2.6" fill="#e80000" stroke="#700000" stroke-width="0.7"/>
<circle cx="118.8" cy="454.3" r="2.6" fill="#e80000" stroke="#700000" stroke-width="0.7"/>
<circle cx="137.6" cy="447.7" r="2.6" fill="#e80000" stroke="#700000" stroke-width="0.7"/>
<circle cx="140.9" cy="448.9" r="2.6" fill="#0000d8" stroke="#000070" stroke-width="0.7"/>
<circle cx="137.3" cy="453.8" r="2.6" fill="#00e000" stroke="#006000" stroke-width="0.7"/>
<circle cx="132.2" cy="456.5" r="2.6" fill="#e80000" stroke="#700000" stroke-width="0.7"/>
<circle cx="151.6" cy="458.2" r="2.6" fill="#e80000" stroke="#700000" stroke-width="0.7"/>
<circle cx="94.0" cy="457.9" r="2.6" fill="#00e000" stroke="#006000" stroke-width="0.7"/>
<circle cx="97.9" cy="457.6" r="2.6" fill="#e80000" stroke="#700000" stroke-width="0.7"/>
<circle cx="105.2" cy="456.2" r="2.6" fill="#e80000" stroke="#700000" stroke-width="0.7"/>
<circle cx="107.0" cy="457.2" r="2.6" fill="#e80000" stroke="#700000" stroke-width="0.7"/>
<circle cx="109.3" cy="460.5" r="2.6" fill="#00e000" stroke="#006000" stroke-width="0.7"/>
<circle cx="113.2" cy="459.7" r="2.6" fill="#e80000" stroke="#700000" stroke-width="0.7"/>
<circle cx="113.5" cy="464.5" r="2.6" fill="#e80000" stroke="#700000" stroke-width="0.7"/>
<circle cx="111.0" cy="465.5" r="2.6" fill="#e80000" stroke="#700000" stroke-width="0.7"/>
<circle cx="107.0" cy="467.8" r="2.6" fill="#e80000" stroke="#700000" stroke-width="0.7"/>
<circle cx="101.6" cy="470.3" r="2.6" fill="#e80000" stroke="#700000" stroke-width="0.7"/>
<circle cx="126.6" cy="464.5" r="2.6" fill="#e80000" stroke="#700000" stroke-width="0.7"/>
<circle cx="135.1" cy="464.5" r="2.6" fill="#e80000" stroke="#700000" stroke-width="0.7"/>
<circle cx="136.6" cy="468.4" r="2.6" fill="#e80000" stroke="#700000" stroke-width="0.7"/>
<circle cx="140.9" cy="469.6" r="2.6" fill="#e80000" stroke="#700000" stroke-width="0.7"/>
<circle cx="119.8" cy="470.8" r="2.6" fill="#e80000" stroke="#700000" stroke-width="0.7"/>
<circle cx="97.2" cy="475.4" r="2.6" fill="#e80000" stroke="#700000" stroke-width="0.7"/>
<circle cx="109.6" cy="475.4" r="2.6" fill="#e80000" stroke="#700000" stroke-width="0.7"/>
<circle cx="111.3" cy="475.7" r="2.6" fill="#e80000" stroke="#700000" stroke-width="0.7"/>
<circle cx="137.7" cy="476.1" r="2.6" fill="#00e000" stroke="#006000" stroke-width="0.7"/>
<circle cx="130.0" cy="482.0" r="2.6" fill="#e80000" stroke="#700000" stroke-width="0.7"/>
<circle cx="120.5" cy="485.3" r="2.6" fill="#e80000" stroke="#700000" stroke-width="0.7"/>
<circle cx="149.4" cy="483.9" r="2.6" fill="#e80000" stroke="#700000" stroke-width="0.7"/>
<circle cx="131.8" cy="494.4" r="2.6" fill="#e80000" stroke="#700000" stroke-width="0.7"/>
<circle cx="173.8" cy="424.7" r="2.6" fill="#0000d8" stroke="#000070" stroke-width="0.7"/>
<circle cx="177.3" cy="435.3" r="2.6" fill="#0000d8" stroke="#000070" stroke-width="0.7"/>
<circle cx="195.6" cy="432.8" r="2.6" fill="#0000d8" stroke="#000070" stroke-width="0.7"/>
<circle cx="204.4" cy="436.0" r="2.6" fill="#0000d8" stroke="#000070" stroke-width="0.7"/>
<circle cx="204.3" cy="444.8" r="2.6" fill="#0000d8" stroke="#000070" stroke-width="0.7"/>
<circle cx="205.0" cy="454.6" r="2.6" fill="#0000d8" stroke="#000070" stroke-width="0.7"/>
<circle cx="206.4" cy="461.6" r="2.6" fill="#0000d8" stroke="#000070" stroke-width="0.7"/>
<circle cx="160.6" cy="439.3" r="2.6" fill="#0000d8" stroke="#000070" stroke-width="0.7"/>
<circle cx="174.5" cy="462.6" r="2.6" fill="#e80000" stroke="#700000" stroke-width="0.7"/>
<circle cx="193.8" cy="462.3" r="2.6" fill="#00e000" stroke="#006000" stroke-width="0.7"/>
<circle cx="198.4" cy="460.4" r="2.6" fill="#00e000" stroke="#006000" stroke-width="0.7"/>
<circle cx="195.3" cy="484.4" r="2.6" fill="#00e000" stroke="#006000" stroke-width="0.7"/>
<circle cx="193.9" cy="486.1" r="2.6" fill="#00e000" stroke="#006000" stroke-width="0.7"/>
<circle cx="204.1" cy="491.7" r="2.6" fill="#00e000" stroke="#006000" stroke-width="0.7"/>
<circle cx="202.6" cy="496.8" r="2.6" fill="#00e000" stroke="#006000" stroke-width="0.7"/>
<circle cx="195.8" cy="508.0" r="2.6" fill="#00e000" stroke="#006000" stroke-width="0.7"/>
<circle cx="198.7" cy="516.9" r="2.6" fill="#00e000" stroke="#006000" stroke-width="0.7"/>
<circle cx="215.0" cy="482.9" r="2.6" fill="#0000d8" stroke="#000070" stroke-width="0.7"/>
<circle cx="222.7" cy="482.9" r="2.6" fill="#0000d8" stroke="#000070" stroke-width="0.7"/>
<rect x="31.8" y="317.2" width="227.7" height="226.7" fill="none" stroke="#969696" stroke-width="1.8"/>
<line x1="31.8" y1="317.2" x2="31.8" y2="544.8" stroke="#8c8c8c" stroke-width="2"/>
<line x1="30.900000000000002" y1="543.9" x2="259.5" y2="543.9" stroke="#8c8c8c" stroke-width="2"/>
<line x1="84.60000000000001" y1="543.9" x2="84.60000000000001" y2="546.9" stroke="#666" stroke-width="1"/>
<text x="84.60000000000001" y="555.5" font-size="6" text-anchor="middle" fill="#4a4a4a">-50</text>
<line x1="140.4" y1="543.9" x2="140.4" y2="546.9" stroke="#666" stroke-width="1"/>
<text x="140.4" y="555.5" font-size="6" text-anchor="middle" fill="#4a4a4a">0</text>
<line x1="196.2" y1="543.9" x2="196.2" y2="546.9" stroke="#666" stroke-width="1"/>
<text x="196.2" y="555.5" font-size="6" text-anchor="middle" fill="#4a4a4a">50</text>
<line x1="252.0" y1="543.9" x2="252.0" y2="546.9" stroke="#666" stroke-width="1"/>
<text x="252.0" y="555.5" font-size="6" text-anchor="middle" fill="#4a4a4a">100</text>
<line x1="31.8" y1="498.2" x2="28.8" y2="498.2" stroke="#666" stroke-width="1"/>
<text x="22.8" y="498.2" font-size="6" text-anchor="middle" fill="#4a4a4a" transform="rotate(-90 22.8 498.2)" dominant-baseline="central">-50</text>
<line x1="31.8" y1="435.9" x2="28.8" y2="435.9" stroke="#666" stroke-width="1"/>
<text x="22.8" y="435.9" font-size="6" text-anchor="middle" fill="#4a4a4a" transform="rotate(-90 22.8 435.9)" dominant-baseline="central">0</text>
<line x1="31.8" y1="373.59999999999997" x2="28.8" y2="373.59999999999997" stroke="#666" stroke-width="1"/>
<text x="22.8" y="373.59999999999997" font-size="6" text-anchor="middle" fill="#4a4a4a" transform="rotate(-90 22.8 373.59999999999997)" dominant-baseline="central">50</text>
<text x="145.5" y="568.5" font-size="5.6" text-anchor="middle" fill="#4a4a4a">Component 1 ( 10.1 %)</text>
<text x="11.5" y="431" font-size="5.6" text-anchor="middle" fill="#4a4a4a" dominant-baseline="central" transform="rotate(-90 11.5 431)">Component 2 ( 6 %)</text>
<rect x="401.6" y="317.2" width="228.0" height="226.7" fill="#fff"/>
<ellipse cx="480.78" cy="440.43" rx="86.26" ry="43.72" transform="rotate(-116.12 480.78 440.43)" fill="rgb(192,246,192)"/>
<ellipse cx="537.50" cy="409.85" rx="84.81" ry="43.85" transform="rotate(-128.74 537.50 409.85)" fill="rgb(190,190,248)"/>
<g clip-path="url(#dg)"><ellipse cx="537.50" cy="409.85" rx="84.81" ry="43.85" transform="rotate(-128.74 537.50 409.85)" fill="rgb(140,182,202)"/></g>
<line x1="409.9" y1="317.2" x2="409.9" y2="543.9" stroke="#000" stroke-opacity="0.05" stroke-width="1"/>
<line x1="443.9" y1="317.2" x2="443.9" y2="543.9" stroke="#000" stroke-opacity="0.05" stroke-width="1"/>
<line x1="477.9" y1="317.2" x2="477.9" y2="543.9" stroke="#000" stroke-opacity="0.05" stroke-width="1"/>
<line x1="511.9" y1="317.2" x2="511.9" y2="543.9" stroke="#000" stroke-opacity="0.05" stroke-width="1"/>
<line x1="545.9" y1="317.2" x2="545.9" y2="543.9" stroke="#000" stroke-opacity="0.05" stroke-width="1"/>
<line x1="579.9" y1="317.2" x2="579.9" y2="543.9" stroke="#000" stroke-opacity="0.05" stroke-width="1"/>
<line x1="613.9" y1="317.2" x2="613.9" y2="543.9" stroke="#000" stroke-opacity="0.05" stroke-width="1"/>
<line x1="401.6" y1="484.40000000000003" x2="629.6" y2="484.40000000000003" stroke="#000" stroke-opacity="0.05" stroke-width="1"/>
<line x1="401.6" y1="424.3" x2="629.6" y2="424.3" stroke="#000" stroke-opacity="0.05" stroke-width="1"/>
<line x1="401.6" y1="364.2" x2="629.6" y2="364.2" stroke="#000" stroke-opacity="0.05" stroke-width="1"/>
<circle cx="497.7" cy="341.2" r="2.6" fill="#0000d8" stroke="#000070" stroke-width="0.7"/>
<circle cx="486.4" cy="346.9" r="2.6" fill="#0000d8" stroke="#000070" stroke-width="0.7"/>
<circle cx="496.6" cy="360.4" r="2.6" fill="#0000d8" stroke="#000070" stroke-width="0.7"/>
<circle cx="442.2" cy="373.1" r="2.6" fill="#00e000" stroke="#006000" stroke-width="0.7"/>
<circle cx="457.9" cy="380.5" r="2.6" fill="#00e000" stroke="#006000" stroke-width="0.7"/>
<circle cx="463.8" cy="387.8" r="2.6" fill="#00e000" stroke="#006000" stroke-width="0.7"/>
<circle cx="468.6" cy="394.0" r="2.6" fill="#00e000" stroke="#006000" stroke-width="0.7"/>
<circle cx="457.9" cy="400.2" r="2.6" fill="#00e000" stroke="#006000" stroke-width="0.7"/>
<circle cx="486.8" cy="391.3" r="2.6" fill="#00e000" stroke="#006000" stroke-width="0.7"/>
<circle cx="504.3" cy="385.5" r="2.6" fill="#0000d8" stroke="#000070" stroke-width="0.7"/>
<circle cx="503.4" cy="398.6" r="2.6" fill="#0000d8" stroke="#000070" stroke-width="0.7"/>
<circle cx="499.5" cy="402.4" r="2.6" fill="#0000d8" stroke="#000070" stroke-width="0.7"/>
<circle cx="514.1" cy="396.1" r="2.6" fill="#0000d8" stroke="#000070" stroke-width="0.7"/>
<circle cx="495.8" cy="411.0" r="2.6" fill="#0000d8" stroke="#000070" stroke-width="0.7"/>
<circle cx="512.6" cy="410.3" r="2.6" fill="#0000d8" stroke="#000070" stroke-width="0.7"/>
<circle cx="470.6" cy="414.4" r="2.6" fill="#00e000" stroke="#006000" stroke-width="0.7"/>
<circle cx="507.1" cy="418.3" r="2.6" fill="#00e000" stroke="#006000" stroke-width="0.7"/>
<circle cx="507.9" cy="421.7" r="2.6" fill="#0000d8" stroke="#000070" stroke-width="0.7"/>
<circle cx="533.1" cy="373.8" r="2.6" fill="#0000d8" stroke="#000070" stroke-width="0.7"/>
<circle cx="541.1" cy="377.5" r="2.6" fill="#0000d8" stroke="#000070" stroke-width="0.7"/>
<circle cx="519.6" cy="384.5" r="2.6" fill="#0000d8" stroke="#000070" stroke-width="0.7"/>
<circle cx="523.3" cy="383.8" r="2.6" fill="#0000d8" stroke="#000070" stroke-width="0.7"/>
<circle cx="553.5" cy="384.9" r="2.6" fill="#0000d8" stroke="#000070" stroke-width="0.7"/>
<circle cx="555.1" cy="384.5" r="2.6" fill="#0000d8" stroke="#000070" stroke-width="0.7"/>
<circle cx="568.5" cy="385.2" r="2.6" fill="#0000d8" stroke="#000070" stroke-width="0.7"/>
<circle cx="523.0" cy="395.0" r="2.6" fill="#0000d8" stroke="#000070" stroke-width="0.7"/>
<circle cx="531.3" cy="399.8" r="2.6" fill="#0000d8" stroke="#000070" stroke-width="0.7"/>
<circle cx="537.1" cy="404.6" r="2.6" fill="#0000d8" stroke="#000070" stroke-width="0.7"/>
<circle cx="541.5" cy="404.2" r="2.6" fill="#0000d8" stroke="#000070" stroke-width="0.7"/>
<circle cx="537.9" cy="406.4" r="2.6" fill="#0000d8" stroke="#000070" stroke-width="0.7"/>
<circle cx="533.8" cy="409.0" r="2.6" fill="#0000d8" stroke="#000070" stroke-width="0.7"/>
<circle cx="554.6" cy="408.8" r="2.6" fill="#0000d8" stroke="#000070" stroke-width="0.7"/>
<circle cx="550.6" cy="415.1" r="2.6" fill="#0000d8" stroke="#000070" stroke-width="0.7"/>
<circle cx="543.7" cy="417.3" r="2.6" fill="#0000d8" stroke="#000070" stroke-width="0.7"/>
<circle cx="568.1" cy="418.8" r="2.6" fill="#0000d8" stroke="#000070" stroke-width="0.7"/>
<circle cx="560.2" cy="422.0" r="2.6" fill="#0000d8" stroke="#000070" stroke-width="0.7"/>
<circle cx="519.6" cy="417.3" r="2.6" fill="#0000d8" stroke="#000070" stroke-width="0.7"/>
<circle cx="446.0" cy="429.5" r="2.6" fill="#00e000" stroke="#006000" stroke-width="0.7"/>
<circle cx="450.3" cy="428.8" r="2.6" fill="#00e000" stroke="#006000" stroke-width="0.7"/>
<circle cx="471.0" cy="425.8" r="2.6" fill="#00e000" stroke="#006000" stroke-width="0.7"/>
<circle cx="477.3" cy="429.5" r="2.6" fill="#00e000" stroke="#006000" stroke-width="0.7"/>
<circle cx="482.0" cy="426.6" r="2.6" fill="#00e000" stroke="#006000" stroke-width="0.7"/>
<circle cx="484.2" cy="435.6" r="2.6" fill="#00e000" stroke="#006000" stroke-width="0.7"/>
<circle cx="476.6" cy="437.9" r="2.6" fill="#00e000" stroke="#006000" stroke-width="0.7"/>
<circle cx="476.9" cy="442.9" r="2.6" fill="#00e000" stroke="#006000" stroke-width="0.7"/>
<circle cx="482.3" cy="443.6" r="2.6" fill="#00e000" stroke="#006000" stroke-width="0.7"/>
<circle cx="489.7" cy="445.1" r="2.6" fill="#00e000" stroke="#006000" stroke-width="0.7"/>
<circle cx="501.2" cy="442.2" r="2.6" fill="#00e000" stroke="#006000" stroke-width="0.7"/>
<circle cx="513.6" cy="442.2" r="2.6" fill="#00e000" stroke="#006000" stroke-width="0.7"/>
<circle cx="456.9" cy="445.1" r="2.6" fill="#00e000" stroke="#006000" stroke-width="0.7"/>
<circle cx="464.5" cy="445.1" r="2.6" fill="#00e000" stroke="#006000" stroke-width="0.7"/>
<circle cx="471.8" cy="448.4" r="2.6" fill="#00e000" stroke="#006000" stroke-width="0.7"/>
<circle cx="454.0" cy="452.8" r="2.6" fill="#00e000" stroke="#006000" stroke-width="0.7"/>
<circle cx="474.3" cy="457.2" r="2.6" fill="#00e000" stroke="#006000" stroke-width="0.7"/>
<circle cx="489.7" cy="464.9" r="2.6" fill="#00e000" stroke="#006000" stroke-width="0.7"/>
<circle cx="488.5" cy="467.4" r="2.6" fill="#00e000" stroke="#006000" stroke-width="0.7"/>
<circle cx="503.1" cy="467.8" r="2.6" fill="#00e000" stroke="#006000" stroke-width="0.7"/>
<circle cx="456.0" cy="472.8" r="2.6" fill="#00e000" stroke="#006000" stroke-width="0.7"/>
<circle cx="475.1" cy="485.3" r="2.6" fill="#00e000" stroke="#006000" stroke-width="0.7"/>
<circle cx="478.6" cy="486.8" r="2.6" fill="#00e000" stroke="#006000" stroke-width="0.7"/>
<circle cx="514.1" cy="495.5" r="2.6" fill="#00e000" stroke="#006000" stroke-width="0.7"/>
<circle cx="511.9" cy="502.4" r="2.6" fill="#00e000" stroke="#006000" stroke-width="0.7"/>
<circle cx="518.9" cy="424.4" r="2.6" fill="#0000d8" stroke="#000070" stroke-width="0.7"/>
<circle cx="521.8" cy="428.3" r="2.6" fill="#0000d8" stroke="#000070" stroke-width="0.7"/>
<circle cx="526.5" cy="426.9" r="2.6" fill="#0000d8" stroke="#000070" stroke-width="0.7"/>
<circle cx="539.3" cy="428.8" r="2.6" fill="#0000d8" stroke="#000070" stroke-width="0.7"/>
<circle cx="550.6" cy="426.1" r="2.6" fill="#0000d8" stroke="#000070" stroke-width="0.7"/>
<circle cx="548.8" cy="432.7" r="2.6" fill="#0000d8" stroke="#000070" stroke-width="0.7"/>
<circle cx="549.3" cy="438.7" r="2.6" fill="#0000d8" stroke="#000070" stroke-width="0.7"/>
<circle cx="564.1" cy="433.9" r="2.6" fill="#0000d8" stroke="#000070" stroke-width="0.7"/>
<circle cx="584.5" cy="432.8" r="2.6" fill="#0000d8" stroke="#000070" stroke-width="0.7"/>
<circle cx="579.7" cy="438.2" r="2.6" fill="#0000d8" stroke="#000070" stroke-width="0.7"/>
<circle cx="538.9" cy="449.5" r="2.6" fill="#0000d8" stroke="#000070" stroke-width="0.7"/>
<circle cx="569.2" cy="457.2" r="2.6" fill="#0000d8" stroke="#000070" stroke-width="0.7"/>
<circle cx="555.7" cy="462.3" r="2.6" fill="#0000d8" stroke="#000070" stroke-width="0.7"/>
<circle cx="538.3" cy="466.4" r="2.6" fill="#0000d8" stroke="#000070" stroke-width="0.7"/>
<circle cx="605.7" cy="470.0" r="2.6" fill="#0000d8" stroke="#000070" stroke-width="0.7"/>
<circle cx="529.6" cy="469.9" r="2.6" fill="#00e000" stroke="#006000" stroke-width="0.7"/>
<circle cx="528.1" cy="479.5" r="2.6" fill="#00e000" stroke="#006000" stroke-width="0.7"/>
<rect x="401.6" y="317.2" width="228.0" height="226.7" fill="none" stroke="#969696" stroke-width="1.8"/>
<line x1="401.6" y1="317.2" x2="401.6" y2="544.8" stroke="#8c8c8c" stroke-width="2"/>
<line x1="400.70000000000005" y1="543.9" x2="629.6" y2="543.9" stroke="#8c8c8c" stroke-width="2"/>
<line x1="409.9" y1="543.9" x2="409.9" y2="546.9" stroke="#666" stroke-width="1"/>
<text x="409.9" y="555.5" font-size="6" text-anchor="middle" fill="#4a4a4a">-60</text>
<line x1="443.9" y1="543.9" x2="443.9" y2="546.9" stroke="#666" stroke-width="1"/>
<text x="443.9" y="555.5" font-size="6" text-anchor="middle" fill="#4a4a4a">-40</text>
<line x1="477.9" y1="543.9" x2="477.9" y2="546.9" stroke="#666" stroke-width="1"/>
<text x="477.9" y="555.5" font-size="6" text-anchor="middle" fill="#4a4a4a">-20</text>
<line x1="511.9" y1="543.9" x2="511.9" y2="546.9" stroke="#666" stroke-width="1"/>
<text x="511.9" y="555.5" font-size="6" text-anchor="middle" fill="#4a4a4a">0</text>
<line x1="545.9" y1="543.9" x2="545.9" y2="546.9" stroke="#666" stroke-width="1"/>
<text x="545.9" y="555.5" font-size="6" text-anchor="middle" fill="#4a4a4a">20</text>
<line x1="579.9" y1="543.9" x2="579.9" y2="546.9" stroke="#666" stroke-width="1"/>
<text x="579.9" y="555.5" font-size="6" text-anchor="middle" fill="#4a4a4a">40</text>
<line x1="613.9" y1="543.9" x2="613.9" y2="546.9" stroke="#666" stroke-width="1"/>
<text x="613.9" y="555.5" font-size="6" text-anchor="middle" fill="#4a4a4a">60</text>
<line x1="401.6" y1="484.40000000000003" x2="398.6" y2="484.40000000000003" stroke="#666" stroke-width="1"/>
<text x="392.6" y="484.40000000000003" font-size="6" text-anchor="middle" fill="#4a4a4a" transform="rotate(-90 392.6 484.40000000000003)" dominant-baseline="central">-50</text>
<line x1="401.6" y1="424.3" x2="398.6" y2="424.3" stroke="#666" stroke-width="1"/>
<text x="392.6" y="424.3" font-size="6" text-anchor="middle" fill="#4a4a4a" transform="rotate(-90 392.6 424.3)" dominant-baseline="central">0</text>
<line x1="401.6" y1="364.2" x2="398.6" y2="364.2" stroke="#666" stroke-width="1"/>
<text x="392.6" y="364.2" font-size="6" text-anchor="middle" fill="#4a4a4a" transform="rotate(-90 392.6 364.2)" dominant-baseline="central">50</text>
<text x="515.5" y="568.5" font-size="5.6" text-anchor="middle" fill="#4a4a4a">Component 1 ( 4.8 %)</text>
<text x="381.5" y="431" font-size="5.6" text-anchor="middle" fill="#4a4a4a" dominant-baseline="central" transform="rotate(-90 381.5 431)">Component 2 ( 9.8 %)</text>
<text x="171" y="47.9" font-size="11.4" font-weight="bold" fill="#2a22a8" text-anchor="start">CF</text>
<text x="72.1" y="205.9" font-size="11.4" font-weight="bold" fill="#dc2028" text-anchor="middle">Non-</text>
<text x="72.1" y="218.7" font-size="11.4" font-weight="bold" fill="#dc2028" text-anchor="middle">respiratory</text>
<text x="172.5" y="242" font-size="11.4" font-weight="bold" fill="#27a45c" text-anchor="start">Bronchiectasis</text>
<text x="533.8" y="48" font-size="11.4" font-weight="bold" fill="#2a22a8" text-anchor="start">CF</text>
<text x="413" y="239.8" font-size="11.4" font-weight="bold" fill="#27a45c" text-anchor="start">Bronchiectasis</text>
<text x="171" y="341" font-size="11.4" font-weight="bold" fill="#2a22a8" text-anchor="start">CF</text>
<text x="72" y="499" font-size="11.4" font-weight="bold" fill="#dc2028" text-anchor="middle">Non-</text>
<text x="72" y="510.7" font-size="11.4" font-weight="bold" fill="#dc2028" text-anchor="middle">respiratory</text>
<text x="172.2" y="535.4" font-size="11.4" font-weight="bold" fill="#27a45c" text-anchor="start">Bronchiectasis</text>
<text x="533.8" y="341" font-size="11.4" font-weight="bold" fill="#2a22a8" text-anchor="start">CF</text>
<text x="413.5" y="532.8" font-size="11.4" font-weight="bold" fill="#27a45c" text-anchor="start">Bronchiectasis</text>
<text x="7.3" y="11.8" font-size="14.65" font-weight="bold" fill="#111">a. Scores plot with all <tspan font-style="italic">P. aeruginosa</tspan> isolates</text>
<text x="373" y="11.8" font-size="14.65" font-weight="bold" fill="#111">b. Scores plot for the respiratory isolates</text>
<text x="7.3" y="305.7" font-size="14.65" font-weight="bold" fill="#111">c. Scores plot with all <tspan font-style="italic">P. aeruginosa</tspan> isolates</text>
<text x="373" y="305.7" font-size="14.65" font-weight="bold" fill="#111">d. Scores plot for the respiratory isolates</text>
<text x="271.9" y="491" font-size="8.6" font-style="italic" fill="#3a3a3a" text-anchor="start" dominant-baseline="central" transform="rotate(-90 271.9 491)">5 components</text>
<text x="284.1" y="491" font-size="8.6" font-style="italic" fill="#3a3a3a" text-anchor="start" dominant-baseline="central" transform="rotate(-90 284.1 491)">Accuracy = 0.53</text>
<text x="271.9" y="417" font-size="8.6" font-style="italic" fill="#3a3a3a" text-anchor="start" dominant-baseline="central" transform="rotate(-90 271.9 417)">R2 = 0.97</text>
<text x="284.1" y="417" font-size="8.6" font-style="italic" fill="#3a3a3a" text-anchor="start" dominant-baseline="central" transform="rotate(-90 284.1 417)">Q2 = 0.21</text>
<text x="641" y="492" font-size="8.6" font-style="italic" fill="#3a3a3a" text-anchor="start" dominant-baseline="central" transform="rotate(-90 641 492)">5 components</text>
<text x="652.6" y="492" font-size="8.6" font-style="italic" fill="#3a3a3a" text-anchor="start" dominant-baseline="central" transform="rotate(-90 652.6 492)">Accuracy = 0.76</text>
<text x="641" y="418" font-size="8.6" font-style="italic" fill="#3a3a3a" text-anchor="start" dominant-baseline="central" transform="rotate(-90 641 418)">R2 = 0.99</text>
<text x="652.6" y="418" font-size="8.6" font-style="italic" fill="#3a3a3a" text-anchor="start" dominant-baseline="central" transform="rotate(-90 652.6 418)">Q2 = 0.28</text>
</svg></body></html>
